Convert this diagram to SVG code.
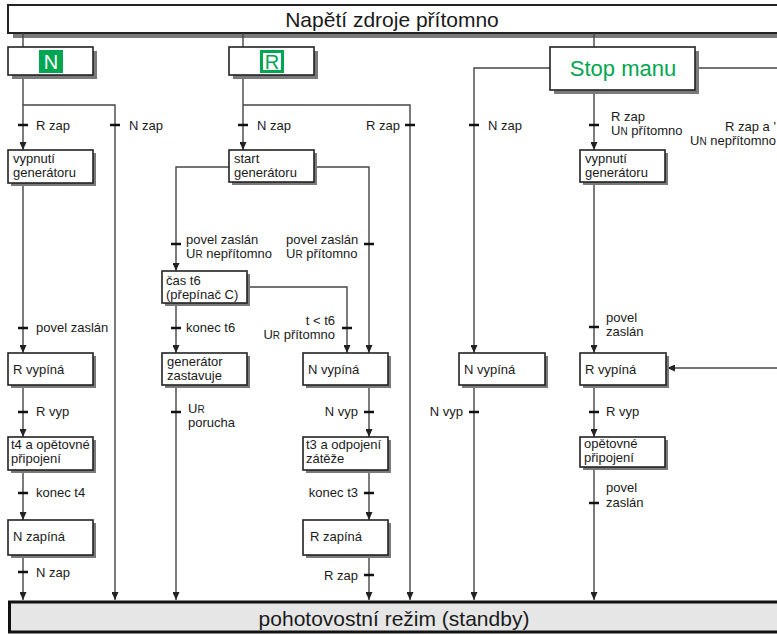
<svg xmlns="http://www.w3.org/2000/svg" width="777" height="635" viewBox="0 0 777 635">
<style>
text{font-family:"Liberation Sans",Arial,sans-serif;fill:#1a1a1a}
.lbl{font-size:13px}
.nt{font-size:13px}
.sh{fill:#7a7a7a}
.bx{fill:#fff;stroke:#222;stroke-width:1.6}
.ln{fill:none;stroke:#444;stroke-width:1.4}
.tk{stroke:#111;stroke-width:2.6}
.sc{font-size:10px}
</style>
<defs>
<marker id="ar" markerUnits="userSpaceOnUse" markerWidth="8" markerHeight="7" refX="8" refY="3.5" orient="auto">
<path d="M0,0 L8,3.5 L0,7 z" fill="#222"/>
</marker>
</defs>
<rect width="777" height="635" fill="#fff"/>

<g id="top">
<rect class="sh" x="13" y="10" width="800" height="28"/>
<rect x="8" y="5" width="800" height="28" fill="#fff" stroke="#222" stroke-width="2"/>
<text x="392" y="27" text-anchor="middle" style="font-size:21px">Napětí zdroje přítomno</text>
</g>

<g id="connectors">
<path class="ln" d="M23,33 V47"/>
<path class="ln" d="M243,33 V47"/>
<path class="ln" d="M594,33 V47"/>
<path class="ln" d="M23,75 V150" marker-end="url(#ar)"/>
<path class="ln" d="M23,105 H115 V600" marker-end="url(#ar)"/>
<path class="ln" d="M23,183 V353" marker-end="url(#ar)"/>
<path class="ln" d="M23,385 V437" marker-end="url(#ar)"/>
<path class="ln" d="M23,470 V520" marker-end="url(#ar)"/>
<path class="ln" d="M23,555 V600" marker-end="url(#ar)"/>
<path class="ln" d="M243,75 V150" marker-end="url(#ar)"/>
<path class="ln" d="M243,105 H410 V600" marker-end="url(#ar)"/>
<path class="ln" d="M229,167 H176 V271" marker-end="url(#ar)"/>
<path class="ln" d="M314,167 H369 V353" marker-end="url(#ar)"/>
<path class="ln" d="M247,287 H347 V353" marker-end="url(#ar)"/>
<path class="ln" d="M176,303 V353" marker-end="url(#ar)"/>
<path class="ln" d="M176,385 V600" marker-end="url(#ar)"/>
<path class="ln" d="M369,385 V437" marker-end="url(#ar)"/>
<path class="ln" d="M369,470 V520" marker-end="url(#ar)"/>
<path class="ln" d="M369,555 V600" marker-end="url(#ar)"/>
<path class="ln" d="M550,68 H474 V353" marker-end="url(#ar)"/>
<path class="ln" d="M695,68 H777"/>
<path class="ln" d="M594,90 V150" marker-end="url(#ar)"/>
<path class="ln" d="M594,182 V353" marker-end="url(#ar)"/>
<path class="ln" d="M777,368 H667" marker-end="url(#ar)"/>
<path class="ln" d="M474,385 V600" marker-end="url(#ar)"/>
<path class="ln" d="M594,385 V437" marker-end="url(#ar)"/>
<path class="ln" d="M594,467 V600" marker-end="url(#ar)"/>
<g class="tk">
<path d="M18,125 h10 M110,125 h10 M238,125 h10 M405,125 h10 M469,125 h10 M589,125 h10"/>
<path d="M171,244 h10 M364,244 h10"/>
<path d="M18,328 h10 M171,328 h10 M342,328 h10 M589,327 h10"/>
<path d="M18,412 h10 M171,412 h10 M364,412 h10 M469,412 h10 M589,412 h10"/>
<path d="M18,493 h10 M364,493 h10 M589,503 h10"/>
<path d="M18,572 h10 M364,575 h10"/>
</g>
<g class="lbl">
<text x="36" y="130">R zap</text>
<text x="129" y="130">N zap</text>
<text x="257" y="130">N zap</text>
<text x="400" y="130" text-anchor="end">R zap</text>
<text x="488" y="130">N zap</text>
<text x="611" y="121">R zap</text>
<text x="611" y="135">U<tspan class="sc">N</tspan> přítomno</text>
<text x="725" y="131">R zap a '</text>
<text x="690" y="145">U<tspan class="sc">N</tspan> nepřítomno</text>
<text x="186" y="244">povel zaslán</text>
<text x="186" y="258">U<tspan class="sc">R</tspan> nepřítomno</text>
<text x="286" y="244">povel zaslán</text>
<text x="286" y="258">U<tspan class="sc">R</tspan> přítomno</text>
<text x="36" y="332">povel zaslán</text>
<text x="186" y="332">konec t6</text>
<text x="335" y="325" text-anchor="end">t &lt; t6</text>
<text x="335" y="339" text-anchor="end">U<tspan class="sc">R</tspan> přítomno</text>
<text x="606" y="322">povel</text>
<text x="606" y="336">zaslán</text>
<text x="36" y="416">R vyp</text>
<text x="188" y="413">U<tspan class="sc">R</tspan></text>
<text x="188" y="427">porucha</text>
<text x="358" y="416" text-anchor="end">N vyp</text>
<text x="463" y="416" text-anchor="end">N vyp</text>
<text x="606" y="416">R vyp</text>
<text x="36" y="497">konec t4</text>
<text x="358" y="497" text-anchor="end">konec t3</text>
<text x="606" y="492">povel</text>
<text x="606" y="507">zaslán</text>
<text x="36" y="577">N zap</text>
<text x="358" y="580" text-anchor="end">R zap</text>
</g>
</g>

<g id="nN">
<rect class="sh" x="12" y="51" width="85" height="28"/>
<rect class="bx" x="8" y="47" width="85" height="28"/>
<rect x="39" y="50" width="24" height="23" fill="#00a651"/>
<text x="51" y="69" text-anchor="middle" style="font-size:20px;fill:#fff">N</text>
</g>
<g id="nR">
<rect class="sh" x="233" y="51" width="85" height="28"/>
<rect class="bx" x="229" y="47" width="85" height="28"/>
<rect x="261.5" y="51.5" width="21" height="20" fill="#fff" stroke="#00a651" stroke-width="3"/>
<text x="272" y="69" text-anchor="middle" style="font-size:20px;fill:#00a651">R</text>
</g>
<g id="nStop">
<rect class="sh" x="554" y="51" width="145" height="43"/>
<rect class="bx" x="550" y="47" width="145" height="43"/>
<text x="623" y="76" text-anchor="middle" style="font-size:22px;fill:#00a651">Stop manu</text>
</g>

<g id="n1">
<rect class="sh" x="11" y="153" width="85" height="33"/>
<rect class="bx" x="8" y="150" width="85" height="33"/>
<text class="nt" x="13" y="163">vypnutí</text>
<text class="nt" x="13" y="177">generátoru</text>
</g>
<g id="n2">
<rect class="sh" x="11" y="356" width="85" height="32"/>
<rect class="bx" x="8" y="353" width="85" height="32"/>
<text class="nt" x="13" y="374">R vypíná</text>
</g>
<g id="n3">
<rect class="sh" x="11" y="440" width="85" height="33"/>
<rect class="bx" x="8" y="437" width="85" height="33"/>
<text class="nt" x="11" y="449">t4 a opětovné</text>
<text class="nt" x="11" y="463">připojení</text>
</g>
<g id="n4">
<rect class="sh" x="11" y="523" width="85" height="35"/>
<rect class="bx" x="8" y="520" width="85" height="35"/>
<text class="nt" x="13" y="541">N zapíná</text>
</g>

<g id="n5">
<rect class="sh" x="232" y="153" width="85" height="32"/>
<rect class="bx" x="229" y="150" width="85" height="32"/>
<text class="nt" x="234" y="163">start</text>
<text class="nt" x="234" y="177">generátoru</text>
</g>
<g id="n6">
<rect class="sh" x="165" y="274" width="85" height="32"/>
<rect class="bx" x="162" y="271" width="85" height="32"/>
<text class="nt" x="166" y="285">čas t6</text>
<text class="nt" x="166" y="299">(přepínač C)</text>
</g>
<g id="n7">
<rect class="sh" x="165" y="356" width="85" height="32"/>
<rect class="bx" x="162" y="353" width="85" height="32"/>
<text class="nt" x="167" y="366">generátor</text>
<text class="nt" x="167" y="380">zastavuje</text>
</g>
<g id="n8">
<rect class="sh" x="306" y="356" width="85" height="32"/>
<rect class="bx" x="303" y="353" width="85" height="32"/>
<text class="nt" x="308" y="374">N vypíná</text>
</g>
<g id="n9">
<rect class="sh" x="306" y="440" width="85" height="33"/>
<rect class="bx" x="303" y="437" width="85" height="33"/>
<text class="nt" x="306" y="449">t3 a odpojení</text>
<text class="nt" x="306" y="463">zátěže</text>
</g>
<g id="n10">
<rect class="sh" x="306" y="523" width="85" height="35"/>
<rect class="bx" x="303" y="520" width="85" height="35"/>
<text class="nt" x="310" y="541">R  zapíná</text>
</g>

<g id="n11">
<rect class="sh" x="462" y="356" width="86" height="32"/>
<rect class="bx" x="459" y="353" width="86" height="32"/>
<text class="nt" x="464" y="374">N vypíná</text>
</g>
<g id="n12">
<rect class="sh" x="583" y="153" width="85" height="32"/>
<rect class="bx" x="580" y="150" width="85" height="32"/>
<text class="nt" x="585" y="163">vypnutí</text>
<text class="nt" x="585" y="177">generátoru</text>
</g>
<g id="n13">
<rect class="sh" x="583" y="356" width="86" height="32"/>
<rect class="bx" x="580" y="353" width="86" height="32"/>
<text class="nt" x="585" y="374">R vypíná</text>
</g>
<g id="n14">
<rect class="sh" x="583" y="440" width="85" height="30"/>
<rect class="bx" x="580" y="437" width="85" height="30"/>
<text class="nt" x="584" y="448">opětovné</text>
<text class="nt" x="584" y="462">připojení</text>
</g>

<g id="standby">
<rect x="9.5" y="602" width="800" height="30" fill="#e6e6e6" stroke="#111" stroke-width="3"/>
<text x="394" y="626" text-anchor="middle" style="font-size:21px">pohotovostní režim (standby)</text>
</g>
</svg>
